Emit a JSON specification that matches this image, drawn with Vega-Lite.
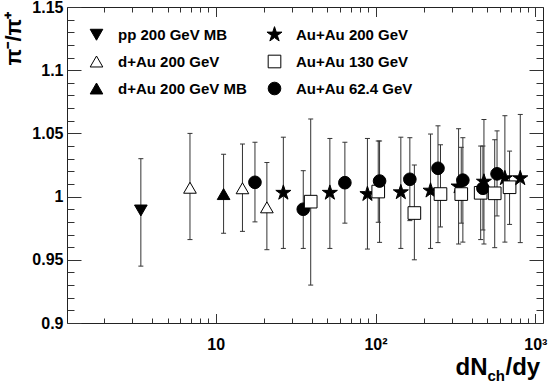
{
  "$schema": "https://vega.github.io/schema/vega-lite/v6.json",
  "autosize": "none",
  "width": 476,
  "height": 316,
  "padding": {"left": 67, "top": 7, "right": 6, "bottom": 61},
  "background": "white",
  "data": {
    "values": [
      {"series": "pp 200 GeV MB", "dndy": 3.4, "ratio": 0.989, "ylo": 0.945, "yhi": 1.030},
      {"series": "d+Au 200 GeV", "dndy": 6.9, "ratio": 1.007, "ylo": 0.966, "yhi": 1.050},
      {"series": "d+Au 200 GeV MB", "dndy": 11.2, "ratio": 1.002, "ylo": 0.971, "yhi": 1.0335},
      {"series": "d+Au 200 GeV", "dndy": 14.7, "ratio": 1.0066, "ylo": 0.9725, "yhi": 1.0416},
      {"series": "Au+Au 62.4 GeV", "dndy": 17.6, "ratio": 1.0113, "ylo": 0.980, "yhi": 1.043},
      {"series": "d+Au 200 GeV", "dndy": 20.9, "ratio": 0.9915, "ylo": 0.958, "yhi": 1.027},
      {"series": "Au+Au 200 GeV", "dndy": 26.5, "ratio": 1.003, "ylo": 0.959, "yhi": 1.047},
      {"series": "Au+Au 62.4 GeV", "dndy": 35.3, "ratio": 0.990, "ylo": 0.959, "yhi": 1.0205},
      {"series": "Au+Au 130 GeV", "dndy": 39.3, "ratio": 0.996, "ylo": 0.930, "yhi": 1.0614},
      {"series": "Au+Au 200 GeV", "dndy": 51.8, "ratio": 1.003, "ylo": 0.959, "yhi": 1.046},
      {"series": "Au+Au 62.4 GeV", "dndy": 64.3, "ratio": 1.011, "ylo": 0.979, "yhi": 1.043},
      {"series": "Au+Au 200 GeV", "dndy": 89, "ratio": 1.002, "ylo": 0.9585, "yhi": 1.046},
      {"series": "Au+Au 130 GeV", "dndy": 104, "ratio": 1.004, "ylo": 0.9797, "yhi": 1.044},
      {"series": "Au+Au 62.4 GeV", "dndy": 106, "ratio": 1.0123, "ylo": 0.9638, "yhi": 1.044},
      {"series": "Au+Au 200 GeV", "dndy": 144, "ratio": 1.0034, "ylo": 0.959, "yhi": 1.047},
      {"series": "Au+Au 62.4 GeV", "dndy": 164, "ratio": 1.0137, "ylo": 0.981, "yhi": 1.0466},
      {"series": "Au+Au 130 GeV", "dndy": 175, "ratio": 0.987, "ylo": 0.950, "yhi": 1.025},
      {"series": "Au+Au 200 GeV", "dndy": 221, "ratio": 1.0047, "ylo": 0.959, "yhi": 1.0495},
      {"series": "Au+Au 62.4 GeV", "dndy": 246, "ratio": 1.0224, "ylo": 0.9636, "yhi": 1.056},
      {"series": "Au+Au 130 GeV", "dndy": 255, "ratio": 1.002, "ylo": 0.976, "yhi": 1.041},
      {"series": "Au+Au 200 GeV", "dndy": 331, "ratio": 1.008, "ylo": 0.9625, "yhi": 1.0537},
      {"series": "Au+Au 130 GeV", "dndy": 344, "ratio": 1.002, "ylo": 0.979, "yhi": 1.039},
      {"series": "Au+Au 62.4 GeV", "dndy": 352, "ratio": 1.013, "ylo": 0.964, "yhi": 1.0466},
      {"series": "Au+Au 130 GeV", "dndy": 455, "ratio": 1.003, "ylo": 0.966, "yhi": 1.040},
      {"series": "Au+Au 62.4 GeV", "dndy": 470, "ratio": 1.0066, "ylo": 0.9736, "yhi": 1.040},
      {"series": "Au+Au 200 GeV", "dndy": 477, "ratio": 1.0118, "ylo": 0.9625, "yhi": 1.061},
      {"series": "Au+Au 130 GeV", "dndy": 557, "ratio": 1.0026, "ylo": 0.9596, "yhi": 1.045},
      {"series": "Au+Au 62.4 GeV", "dndy": 576, "ratio": 1.018, "ylo": 0.9847, "yhi": 1.052},
      {"series": "Au+Au 200 GeV", "dndy": 645, "ratio": 1.0145, "ylo": 0.964, "yhi": 1.064},
      {"series": "Au+Au 130 GeV", "dndy": 690, "ratio": 1.0074, "ylo": 0.978, "yhi": 1.036},
      {"series": "Au+Au 200 GeV", "dndy": 805, "ratio": 1.0145, "ylo": 0.9636, "yhi": 1.065}
    ]
  },
  "resolve": {"axis": {"x": "independent", "y": "independent"}},
  "layer": [
    {
      "mark": {"type": "rule", "color": "#333", "strokeWidth": 1},
      "encoding": {
        "x": {"field": "dndy", "type": "quantitative",
          "scale": {"type": "log", "domain": [1.173, 1117], "nice": false},
          "axis": {"orient": "bottom", "values": [10, 100, 1000], "ticks": false, "labelPadding": 13,
            "labelExpr": "datum.value == 10 ? '10' : (datum.value == 100 ? '10²' : '10³')",
            "labelFlush": false, "labelOverlap": false,
            "title": "dN", "titleX": 388, "titleY": 51, "titleAlign": "left", "titleBaseline": "alphabetic", "titleFontSize": 24, "titleAngle": 0}},
        "y": {"field": "ylo", "type": "quantitative",
          "scale": {"domain": [0.9, 1.15], "nice": false, "zero": false},
          "axis": {"orient": "left", "values": [0.9, 0.95, 1, 1.05, 1.1, 1.15], "ticks": false, "labelPadding": 4, "format": "~g",
            "labelOverlap": false, "labelFlush": false,
            "title": "π⁻/π⁺", "titleX": -54, "titleY": 31, "titleAngle": 270, "titleAlign": "center", "titleBaseline": "middle", "titleFontSize": 22}},
        "y2": {"field": "yhi"}
      }
    },
    {
      "mark": {"type": "tick", "orient": "horizontal", "color": "#333", "size": 5, "thickness": 1, "opacity": 1},
      "encoding": {
        "x": {"field": "dndy", "type": "quantitative",
          "axis": {"orient": "bottom", "values": [10, 100, 1000], "labels": false, "tickSize": -9.5,
            "title": "ch", "titleX": 420, "titleY": 57, "titleAlign": "left", "titleBaseline": "alphabetic", "titleFontSize": 15, "titleAngle": 0}},
        "y": {"field": "ylo", "type": "quantitative",
          "axis": {"orient": "left", "values": [0.9, 0.95, 1, 1.05, 1.1, 1.15], "labels": false, "tickSize": -14, "title": null}}
      }
    },
    {
      "mark": {"type": "tick", "orient": "horizontal", "color": "#333", "size": 5, "thickness": 1, "opacity": 1},
      "encoding": {
        "x": {"field": "dndy", "type": "quantitative",
          "axis": {"orient": "bottom", "values": [2, 3, 4, 5, 6, 7, 8, 9, 20, 30, 40, 50, 60, 70, 80, 90, 200, 300, 400, 500, 600, 700, 800, 900], "labels": false, "tickSize": -5,
            "title": "/dy", "titleX": 438, "titleY": 51, "titleAlign": "left", "titleBaseline": "alphabetic", "titleFontSize": 24, "titleAngle": 0}},
        "y": {"field": "yhi", "type": "quantitative",
          "axis": {"orient": "left", "values": [0.91, 0.92, 0.93, 0.94, 0.96, 0.97, 0.98, 0.99, 1.01, 1.02, 1.03, 1.04, 1.06, 1.07, 1.08, 1.09, 1.11, 1.12, 1.13, 1.14], "labels": false, "tickSize": -7, "title": null}}
      }
    },
    {
      "mark": {"type": "point", "stroke": "black", "strokeWidth": 1, "size": 160, "opacity": 1, "fillOpacity": 1},
      "encoding": {
        "x": {"field": "dndy", "type": "quantitative",
          "axis": {"orient": "top", "values": [10, 100, 1000], "labels": false, "tickSize": -9.5, "title": null}},
        "y": {"field": "ratio", "type": "quantitative",
          "axis": {"orient": "right", "values": [0.9, 0.95, 1, 1.05, 1.1, 1.15], "labels": false, "tickSize": -14, "title": null}},
        "shape": {"field": "series", "type": "nominal",
          "scale": {"domain": ["pp 200 GeV MB", "d+Au 200 GeV", "d+Au 200 GeV MB", "Au+Au 200 GeV", "Au+Au 130 GeV", "Au+Au 62.4 GeV"],
            "range": ["triangle-down", "triangle-up", "triangle-up", "M0,-1.25L0.281,-0.386L1.189,-0.386L0.454,0.148L0.735,1.011L0,0.478L-0.735,1.011L-0.454,0.148L-1.189,-0.386L-0.281,-0.386Z", "square", "circle"]},
          "legend": {"title": null, "encode": {"symbols": {"update": {"stroke": {"value": "black"}, "strokeWidth": {"value": 1}}}}}},
        "fill": {"field": "series", "type": "nominal",
          "scale": {"domain": ["pp 200 GeV MB", "d+Au 200 GeV", "d+Au 200 GeV MB", "Au+Au 200 GeV", "Au+Au 130 GeV", "Au+Au 62.4 GeV"],
            "range": ["black", "white", "black", "black", "white", "black"]},
          "legend": {"title": null, "encode": {"symbols": {"update": {"stroke": {"value": "black"}, "strokeWidth": {"value": 1}}}}}}
      }
    },
    {
      "mark": {"type": "point", "opacity": 0},
      "encoding": {
        "x": {"field": "dndy", "type": "quantitative",
          "axis": {"orient": "top", "values": [2, 3, 4, 5, 6, 7, 8, 9, 20, 30, 40, 50, 60, 70, 80, 90, 200, 300, 400, 500, 600, 700, 800, 900], "labels": false, "tickSize": -5, "title": null}},
        "y": {"field": "ratio", "type": "quantitative",
          "axis": {"orient": "right", "values": [0.91, 0.92, 0.93, 0.94, 0.96, 0.97, 0.98, 0.99, 1.01, 1.02, 1.03, 1.04, 1.06, 1.07, 1.08, 1.09, 1.11, 1.12, 1.13, 1.14], "labels": false, "tickSize": -7, "title": null}}
      }
    }
  ],
  "config": {
    "font": "Liberation Sans",
    "view": {"stroke": "#222", "strokeWidth": 1},
    "axis": {"grid": false, "domain": false, "labelFont": "Liberation Sans", "labelFontWeight": "bold", "labelFontSize": 16, "labelColor": "black",
      "tickColor": "#333", "tickWidth": 1, "titleFont": "Liberation Sans", "titleFontWeight": "bold", "titleColor": "black"},
    "legend": {"orient": "none", "legendX": 22, "legendY": 20, "columns": 2, "padding": 0, "labelFont": "Liberation Sans", "labelFontSize": 15, "labelFontWeight": "bold", "labelColor": "black",
      "symbolSize": 160, "symbolStrokeColor": "black", "symbolStrokeWidth": 1, "labelOffset": 14, "rowPadding": 10, "columnPadding": 17, "symbolOpacity": 1}
  }
}
